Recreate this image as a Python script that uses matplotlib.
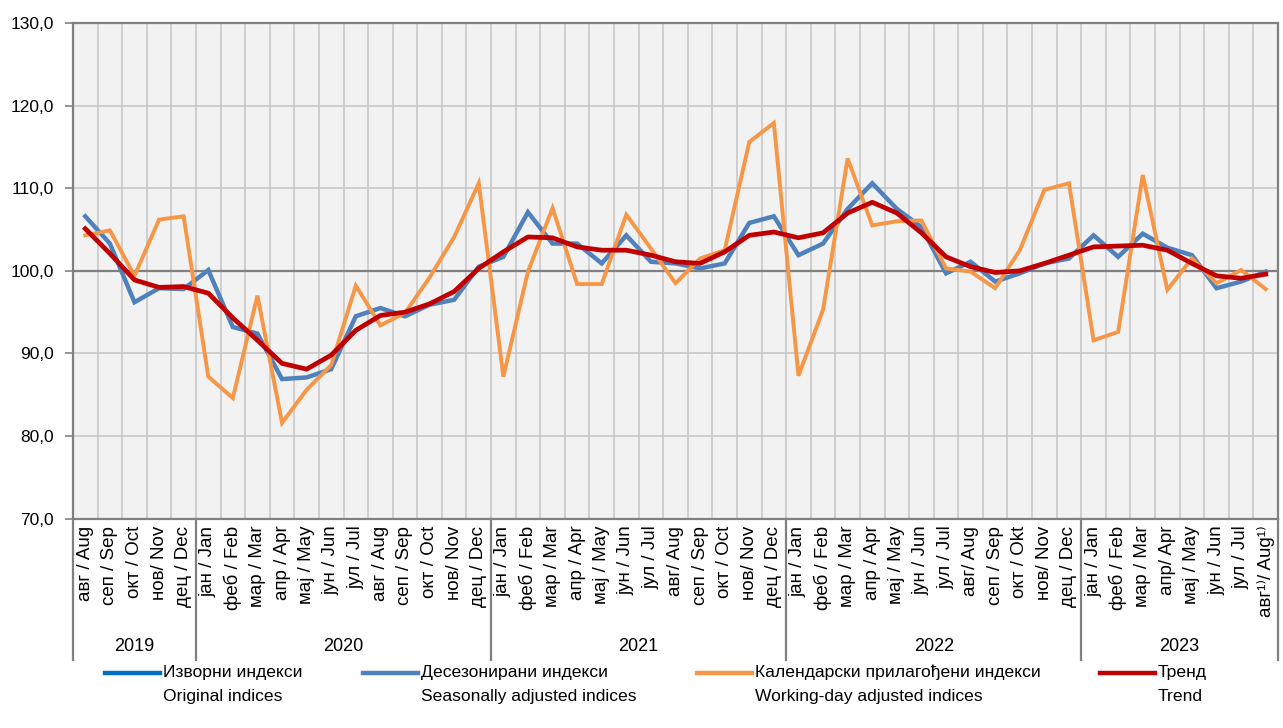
import numpy as np
import matplotlib
matplotlib.use('Agg')
import matplotlib.pyplot as plt
from matplotlib.lines import Line2D

plt.rcParams['font.family'] = ['Liberation Sans', 'DejaVu Sans']

# month labels, Aug 2019 - Aug 2023
months = [
    'авг / Aug', 'сеп / Sep', 'окт / Oct', 'нов/ Nov', 'дец / Dec',
    'јан / Jan', 'феб / Feb', 'мар / Mar', 'апр / Apr', 'мај / May', 'јун / Jun',
    'јул / Jul', 'авг / Aug', 'сеп / Sep', 'окт / Oct', 'нов/ Nov', 'дец / Dec',
    'јан / Jan', 'феб / Feb', 'мар / Mar', 'апр / Apr', 'мај / May', 'јун / Jun',
    'јул / Jul', 'авг/ Aug', 'сеп / Sep', 'окт / Oct', 'нов/ Nov', 'дец / Dec',
    'јан / Jan', 'феб / Feb', 'мар / Mar', 'апр / Apr', 'мај / May', 'јун / Jun',
    'јул / Jul', 'авг/ Aug', 'сеп / Sep', 'окт / Okt', 'нов/ Nov', 'дец / Dec',
    'јан / Jan', 'феб / Feb', 'мар / Mar', 'апр/ Apr', 'мај / May', 'јун / Jun',
    'јул / Jul', 'авг¹⁾/ Aug¹⁾',
]
years = ['2019', '2020', '2021', '2022', '2023']
months_per_year = [5, 12, 12, 12, 8]

seasonally_adj = [
    106.6, 103.3, 96.2, 97.9, 97.8,
    100.1, 93.2, 92.4, 86.9, 87.1, 88.1, 94.5, 95.5, 94.5, 95.9, 96.5, 100.5,
    101.7, 107.1, 103.3, 103.3, 100.9, 104.3, 101.1, 100.9, 100.3, 100.9, 105.8, 106.6,
    101.9, 103.3, 107.5, 110.6, 107.5, 105.3, 99.7, 101.1, 98.7, 99.7, 100.9, 101.5,
    104.3, 101.7, 104.5, 102.8, 101.9, 97.9, 98.7, 99.9,
]
working_day_adj = [
    104.3, 104.9, 99.4, 106.2, 106.6,
    87.2, 84.6, 97.0, 81.6, 85.6, 88.6, 98.2, 93.4, 94.9, 99.2, 104.1, 110.6,
    87.2, 99.9, 107.6, 98.4, 98.4, 106.8, 102.7, 98.5, 101.5, 102.5, 115.6, 117.9,
    87.3, 95.3, 113.6, 105.5, 106.0, 106.1, 100.3, 99.9, 97.9, 102.5, 109.8, 110.6,
    91.6, 92.6, 111.6, 97.7, 101.5, 98.5, 100.1, 97.8,
]
trend = [
    105.1, 102.1, 98.9, 98.0, 98.1,
    97.3, 94.3, 91.6, 88.8, 88.1, 89.8, 92.8, 94.6, 95.0, 96.0, 97.5, 100.3,
    102.3, 104.1, 104.0, 102.9, 102.5, 102.5, 101.9, 101.1, 100.9, 102.3, 104.3, 104.7,
    104.0, 104.6, 107.0, 108.3, 107.0, 104.6, 101.7, 100.5, 99.8, 100.0, 100.9, 101.9,
    102.9, 103.0, 103.1, 102.5, 100.9, 99.4, 99.1, 99.6,
]

legend_labels = [
    'Изворни индекси\nOriginal indices',
    'Десезонирани индекси\nSeasonally adjusted indices',
    'Календарски прилагођени индекси\nWorking-day adjusted indices',
    'Тренд\nTrend',
]
c_orig = '#0070C0'
c_seas = '#4F81BD'
c_work = '#F79646'
c_trend = '#C00000'

fig = plt.figure(figsize=(12.83, 7.28), dpi=100)
ax = fig.add_axes([73 / 1283, 1 - 518.7 / 728, 1205 / 1283, 495.7 / 728])
ax.set_facecolor('#F2F2F2')

x = np.arange(len(months))
ax.plot(x, seasonally_adj, color=c_seas, lw=3.2, solid_joinstyle='miter', zorder=3)
ax.plot(x, working_day_adj, color=c_work, lw=2.8, solid_joinstyle='miter', zorder=4)
ax.plot(x, trend, color=c_trend, lw=3.4, zorder=5)

ax.set_xlim(-0.5, len(months) - 0.5)
ax.set_ylim(70, 130)
ax.set_yticks(np.arange(70, 131, 10))
ax.set_yticklabels([f'{v:.1f}'.replace('.', ',') for v in np.arange(70, 131, 10)], fontsize=12.5)
ax.tick_params(axis='y', length=6, width=1.2, color='#808080', pad=8)

# grid
for v in [80, 90, 110, 120]:
    ax.axhline(v, color='#C8C8C8', lw=1.2, zorder=1)
ax.axhline(100, color='#808080', lw=1.6, zorder=2)
for b in np.arange(0.5, len(months) - 1, 1):
    ax.axvline(b, color='#C8C8C8', lw=1.2, zorder=1)

for s in ax.spines.values():
    s.set_color('#808080')
    s.set_linewidth(1.6)

# month labels
ax.set_xticks(x)
ax.set_xticklabels(months, rotation=90, fontsize=13.5, va='top', ha='center')
ax.tick_params(axis='x', length=0, pad=5)

# year separators and labels
trans = ax.get_xaxis_transform()
edges = np.concatenate([[0], np.cumsum(months_per_year)]) - 0.5
for e in edges:
    ax.add_line(Line2D([e, e], [0, -0.285], transform=trans, color='#808080',
                       lw=1.6, clip_on=False))
for i, yr in enumerate(years):
    mid = (edges[i] + edges[i + 1]) / 2
    ax.text(mid, -0.258, yr, transform=trans, ha='center', va='center',
            fontsize=13)

# legend
leg_x = [105, 363, 697, 1100]
leg_c = [c_orig, c_seas, c_work, c_trend]
for lx, lc, lab in zip(leg_x, leg_c, legend_labels):
    y0 = 1 - 673 / 728
    fig.add_artist(Line2D([lx / 1283, (lx + 55) / 1283], [y0, y0], color=lc, lw=3.2))
    fig.text((lx + 58) / 1283, 1 - 665 / 728, lab, ha='left', va='top',
             fontsize=12.6, linespacing=1.75)

fig.savefig('out.png', dpi=100, facecolor='white')
